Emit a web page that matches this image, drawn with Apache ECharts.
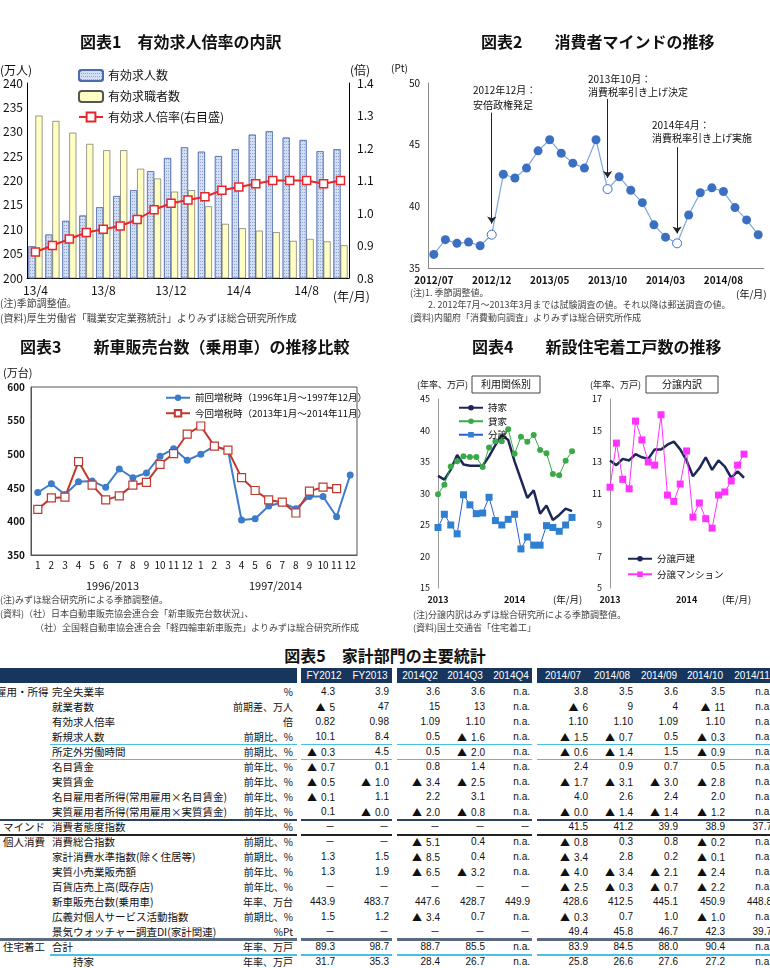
<!DOCTYPE html>
<html>
<head>
<meta charset="utf-8">
<script src="https://cdn.jsdelivr.net/npm/echarts@6/dist/echarts.min.js"></script>
<style>
    body { margin: 0; background: #fff; }
    #wrap { position: relative; width: 770px; height: 968px; overflow: hidden; font-family: "Noto Sans CJK JP", sans-serif; }
    #chart { position: absolute; left: 0; top: 0; width: 770px; height: 640px; }
    #table { position: absolute; left: 0; top: 640px; width: 770px; height: 328px; overflow: hidden; }
    .t { position: absolute; white-space: nowrap; font-size: 10.5px; line-height: 14px; color: #111; }
    .n { font-family: "Liberation Sans", "Noto Sans CJK JP", sans-serif; }
    .tri { font-family: "Noto Sans CJK JP", sans-serif; font-size: 10px; margin-right: 4px; }
</style>
</head>
<body>
<div id="wrap">
    <div id="chart"></div>
    <div id="table"></div>
</div>
<script>
// 図表1 有効求人倍率の内訳
const c1Months = ['13/4','13/5','13/6','13/7','13/8','13/9','13/10','13/11','13/12','14/1','14/2','14/3','14/4','14/5','14/6','14/7','14/8','14/9','14/10'];
const c1Offers = [206.5,208.9,211.7,212.8,214.5,216.8,218.0,221.9,224.6,226.8,225.9,225.0,226.4,229.4,230.1,228.8,228.3,226.0,226.4];
const c1Seekers = [233.3,232.2,229.8,227.5,226.2,226.2,222.4,220.4,217.7,218.0,214.7,211.1,210.2,209.7,209.4,207.6,208.0,207.5,206.7];
const c1Ratio = [0.88,0.90,0.92,0.94,0.95,0.96,0.98,1.01,1.03,1.04,1.05,1.07,1.08,1.09,1.10,1.10,1.10,1.09,1.10];

// 図表2 消費者マインド
const c2Months = ['2012/07','2012/08','2012/09','2012/10','2012/11','2012/12','2013/01','2013/02','2013/03','2013/04','2013/05','2013/06','2013/07','2013/08','2013/09','2013/10','2013/11','2013/12','2014/01','2014/02','2014/03','2014/04','2014/05','2014/06','2014/07','2014/08','2014/09','2014/10','2014/11'];
const c2Index = [36.1,37.3,37.0,37.1,36.8,37.7,42.6,42.3,43.1,44.5,45.4,44.3,43.5,43.1,45.4,41.4,42.4,41.3,40.3,38.5,37.5,37.0,39.3,41.1,41.5,41.2,39.9,38.9,37.7];
const c2Events = ['2012/12','2013/10','2014/04'];
const c2EventText = ['2012年12月：\n安倍政権発足','2013年10月：\n消費税率引き上げ決定','2014年4月：\n消費税率引き上げ実施'];

// 図表3 新車販売台数
const c3Months = ['1','2','3','4','5','6','7','8','9','10','11','12','1','2','3','4','5','6','7','8','9','10','11','12'];
const c3Years = ['1996/2013','1997/2014'];
const c3Prev = [443,456,440,459,460,451,478,465,472,497,508,491,500,512,506,402,404,423,428,419,437,437,407,469];
const c3Curr = [418,435,436,489,454,432,438,454,458,485,501,530,542,512,506,465,446,432,428.6,412.5,445.1,450.9,448.8];

// 図表4 新設住宅着工戸数
const c4Months = ['2013/01','2013/02','2013/03','2013/04','2013/05','2013/06','2013/07','2013/08','2013/09','2013/10','2013/11','2013/12','2014/01','2014/02','2014/03','2014/04','2014/05','2014/06','2014/07','2014/08','2014/09','2014/10'];
const c4Own = [32.8,32.2,33.8,36.1,34.6,34.4,34.4,34.4,35.9,37.7,39.3,38.5,35.1,32.2,29.3,30.5,26.8,28.1,25.8,26.6,27.6,27.2];
const c4Rent = [29.9,31.4,34.3,35.1,35.9,35.8,35.8,34.2,37.3,38.3,38.3,40.2,36.3,39.0,38.2,39.3,36.9,36.4,33.1,32.9,35.2,36.7];
const c4Sale = [24.6,26.7,25.0,23.6,29.8,28.2,26.8,26.9,29.4,25.7,25.0,25.9,26.7,21.2,23.1,21.8,21.8,24.9,24.6,24.0,25.0,26.2];
const c4House = [13.1,12.8,13.2,13.1,13.5,13.3,13.2,13.8,13.8,14.1,14.3,13.8,13.1,12.1,12.6,13.3,12.5,13.1,12.7,12.0,12.4,12.0];
const c4Condo = [11.4,14.2,11.9,11.3,15.6,14.4,13.0,12.8,16.0,10.9,10.5,11.6,13.7,9.5,10.4,9.4,8.8,10.9,11.1,11.8,12.8,13.5];

// 図表5 家計部門の主要統計
const tblHead = ['FY2012','FY2013','2014Q2','2014Q3','2014Q4','2014/07','2014/08','2014/09','2014/10','2014/11'];
const tblRows = [
    ['雇用・所得','完全失業率','%','4.3','3.9','3.6','3.6','n.a.','3.8','3.5','3.6','3.5','n.a.'],
    ['','就業者数','前期差、万人','▲ 5','47','15','13','n.a.','▲ 6','9','4','▲ 11','n.a.'],
    ['','有効求人倍率','倍','0.82','0.98','1.09','1.10','n.a.','1.10','1.10','1.09','1.10','n.a.'],
    ['','新規求人数','前期比、%','10.1','8.4','0.5','▲ 1.6','n.a.','▲ 1.5','▲ 0.7','0.5','▲ 0.3','n.a.'],
    ['','所定外労働時間','前期比、%','▲ 0.3','4.5','0.5','▲ 2.0','n.a.','▲ 0.6','▲ 1.4','1.5','▲ 0.9','n.a.'],
    ['','名目賃金','前年比、%','▲ 0.7','0.1','0.8','1.4','n.a.','2.4','0.9','0.7','0.5','n.a.'],
    ['','実質賃金','前年比、%','▲ 0.5','▲ 1.0','▲ 3.4','▲ 2.5','n.a.','▲ 1.7','▲ 3.1','▲ 3.0','▲ 2.8','n.a.'],
    ['','名目雇用者所得(常用雇用×名目賃金)','前年比、%','▲ 0.1','1.1','2.2','3.1','n.a.','4.0','2.6','2.4','2.0','n.a.'],
    ['','実質雇用者所得(常用雇用×実質賃金)','前年比、%','0.1','▲ 0.0','▲ 2.0','▲ 0.8','n.a.','▲ 0.0','▲ 1.4','▲ 1.4','▲ 1.2','n.a.'],
    ['マインド','消費者態度指数','%','－','－','－','－','－','41.5','41.2','39.9','38.9','37.7'],
    ['個人消費','消費総合指数','前期比、%','－','－','▲ 5.1','0.4','n.a.','▲ 0.8','0.3','0.8','▲ 0.2','n.a.'],
    ['','家計消費水準指数(除く住居等)','前期比、%','1.3','1.5','▲ 8.5','0.4','n.a.','▲ 3.4','2.8','0.2','▲ 0.1','n.a.'],
    ['','実質小売業販売額','前年比、%','1.3','1.9','▲ 6.5','▲ 3.2','n.a.','▲ 4.0','▲ 3.4','▲ 2.1','▲ 2.4','n.a.'],
    ['','百貨店売上高(既存店)','前年比、%','－','－','－','－','－','▲ 2.5','▲ 0.3','▲ 0.7','▲ 2.2','n.a.'],
    ['','新車販売台数(乗用車)','年率、万台','443.9','483.7','447.6','428.7','449.9','428.6','412.5','445.1','450.9','448.8'],
    ['','広義対個人サービス活動指数','前期比、%','1.5','1.2','▲ 3.4','0.7','n.a.','▲ 0.3','0.7','1.0','▲ 1.0','n.a.'],
    ['','景気ウォッチャー調査DI(家計関連)','%Pt','－','－','－','－','－','49.4','45.8','46.7','42.3','39.7'],
    ['住宅着工','合計','年率、万戸','89.3','98.7','88.7','85.5','n.a.','83.9','84.5','88.0','90.4','n.a.'],
    ['','　　持家','年率、万戸','31.7','35.3','28.4','26.7','n.a.','25.8','26.6','27.6','27.2','n.a.']
];

const FONT = '"Noto Sans CJK JP", sans-serif';
const chart = echarts.init(document.getElementById('chart'));

// 図表2: 白抜きの月
const c2Data = c2Index.map((v, i) => c2Events.includes(c2Months[i])
    ? { value: v, itemStyle: { color: '#fff', borderColor: '#3b6fc2', borderWidth: 1 } }
    : v);

// 矢印 (始点, 終点の値)
const arrows = [[47.6, 38.6], [48.7, 42.3], [44.8, 37.8]];

function txt(x, y, text, size, extra) {
    return {
        type: 'text', x: x, y: y, silent: true,
        style: Object.assign({
            text: text, fontSize: size, fontFamily: FONT, fill: '#111',
            align: 'left', verticalAlign: 'middle'
        }, extra || {})
    };
}
function box(x, y, w, h, text) {
    return [
        { type: 'rect', shape: { x: x, y: y, width: w, height: h }, style: { fill: '#fff', stroke: '#444', lineWidth: 1 } },
        txt(x + w / 2, y + h / 2, text, 10, { align: 'center' })
    ];
}

const axisLab = (size, extra) => Object.assign({ fontSize: size, color: '#111', fontFamily: FONT }, extra || {});

const option = {
    animation: false,
    textStyle: { fontFamily: FONT },
    grid: [
        { left: 25, top: 83, width: 324, height: 195 },
        { left: 428, top: 83, width: 336, height: 185 },
        { left: 31, top: 387, width: 326, height: 168, show: true, borderColor: '#555', borderWidth: 1 },
        { left: 438, top: 399, width: 134, height: 189 },
        { left: 610, top: 399, width: 134, height: 189 }
    ],
    xAxis: [
        { type: 'category', gridIndex: 0, data: c1Months,
          axisLine: { lineStyle: { color: '#000' } }, axisTick: { show: false },
          axisLabel: axisLab(12, { interval: 3, margin: 6 }) },
        { type: 'category', gridIndex: 1, data: c2Months,
          axisLine: { lineStyle: { color: '#888' } }, axisTick: { show: false },
          axisLabel: axisLab(10, { interval: 4, margin: 7, fontWeight: 'bold' }) },
        { type: 'category', gridIndex: 2, data: c3Months,
          axisLine: { lineStyle: { color: '#555' } },
          axisTick: { interval: 0, length: 18, lineStyle: { color: '#555' } },
          axisLabel: axisLab(10, { interval: 0, margin: 5 }) },
        { type: 'category', gridIndex: 2, data: c3Years, position: 'bottom', offset: 18,
          axisLine: { show: false },
          axisTick: { interval: 0, length: 19, lineStyle: { color: '#555' } },
          axisLabel: axisLab(11, { margin: 7 }) },
        { type: 'category', gridIndex: 3, data: c4Months, boundaryGap: false,
          axisLine: { show: false }, axisTick: { show: false },
          axisLabel: axisLab(9, { interval: (i) => i % 12 === 0, formatter: (v) => v.slice(0, 4), fontWeight: 'bold', margin: 7 }) },
        { type: 'category', gridIndex: 4, data: c4Months, boundaryGap: false,
          axisLine: { show: false }, axisTick: { show: false },
          axisLabel: axisLab(9, { interval: (i) => i % 12 === 0, formatter: (v) => v.slice(0, 4), fontWeight: 'bold', margin: 7 }) }
    ],
    yAxis: [
        { type: 'value', gridIndex: 0, min: 200, max: 240, interval: 5,
          axisLine: { show: true, lineStyle: { color: '#000' } }, splitLine: { show: false },
          axisLabel: axisLab(12, { margin: 4 }) },
        { type: 'value', gridIndex: 0, position: 'right', min: 0.8, max: 1.4,
          axisLine: { show: true, lineStyle: { color: '#000' } }, splitLine: { show: false },
          axisLabel: axisLab(12, { margin: 8, customValues: [0.8, 0.9, 1.0, 1.1, 1.2, 1.3, 1.4], formatter: (v) => v.toFixed(1) }) },
        { type: 'value', gridIndex: 1, min: 35, max: 50, interval: 5,
          axisLine: { show: true, lineStyle: { color: '#888' } }, splitLine: { show: false },
          axisLabel: axisLab(10, { margin: 8 }) },
        { type: 'value', gridIndex: 2, min: 350, max: 600, interval: 50,
          axisLine: { show: true, lineStyle: { color: '#555' } }, splitLine: { show: false },
          axisLabel: axisLab(10, { margin: 6, fontWeight: 'bold' }) },
        { type: 'value', gridIndex: 3, min: 15, max: 45, interval: 5,
          axisLine: { show: true, lineStyle: { color: '#999' } }, splitLine: { show: false },
          axisLabel: axisLab(9, { margin: 8 }) },
        { type: 'value', gridIndex: 4, min: 5, max: 17,
          axisLine: { show: true, lineStyle: { color: '#999' } }, splitLine: { show: false },
          axisTick: { show: false },
          axisLabel: axisLab(9, { margin: 8, customValues: [5, 7, 9, 11, 13, 15, 17] }) }
    ],
    legend: [
        { left: 73, top: 64, orient: 'vertical', itemGap: 8, itemWidth: 24, itemHeight: 11,
          data: ['有効求人数', '有効求職者数', '有効求人倍率(右目盛)'],
          textStyle: { fontSize: 12, color: '#111' } },
        { left: 160, top: 388, orient: 'vertical', itemGap: 6, itemWidth: 24, itemHeight: 8,
          data: ['前回増税時（1996年1月～1997年12月）', '今回増税時（2013年1月～2014年11月）'],
          textStyle: { fontSize: 9.5, color: '#111' } },
        { left: 453, top: 398, orient: 'vertical', itemGap: 4, itemWidth: 24, itemHeight: 7,
          data: ['持家', '貸家', '分譲'], textStyle: { fontSize: 9.5, color: '#111' } },
        { left: 622, top: 549, orient: 'vertical', itemGap: 6, itemWidth: 24, itemHeight: 7,
          data: ['分譲戸建', '分譲マンション'], textStyle: { fontSize: 9.5, color: '#111' } }
    ],
    series: [
        { name: '有効求人数', type: 'bar', xAxisIndex: 0, yAxisIndex: 0, data: c1Offers,
          barWidth: 7, barGap: '0%',
          itemStyle: { color: '#d3def2', borderColor: '#4d6cb0', borderWidth: 0.6,
                       decal: { symbol: 'rect', symbolSize: 1, color: 'rgba(70,100,170,0.45)', dashArrayX: [1, 1], dashArrayY: [1, 2] } } },
        { name: '有効求職者数', type: 'bar', xAxisIndex: 0, yAxisIndex: 0, data: c1Seekers,
          barWidth: 7,
          itemStyle: { color: '#ffffc4', borderColor: '#555', borderWidth: 0.6 } },
        { name: '有効求人倍率(右目盛)', type: 'line', xAxisIndex: 0, yAxisIndex: 1, data: c1Ratio,
          symbol: 'rect', symbolSize: 8, z: 5, showAllSymbol: true,
          lineStyle: { color: '#e8262b', width: 2 },
          itemStyle: { color: '#fff', borderColor: '#e8262b', borderWidth: 1.5 } },
        { name: '消費者態度指数', type: 'line', xAxisIndex: 1, yAxisIndex: 2, data: c2Data,
          symbol: 'circle', symbolSize: 9, showAllSymbol: true,
          lineStyle: { color: '#7ea6e0', width: 1.2 },
          itemStyle: { color: '#3b6fc2' },
          markLine: {
              silent: true, symbol: ['none', 'arrow'], symbolSize: 7,
              label: { show: false },
              lineStyle: { color: '#222', width: 1, type: 'solid' },
              data: c2Events.map((m, i) => [{ coord: [m, arrows[i][0]] }, { coord: [m, arrows[i][1]] }])
          } },
        { name: '前回増税時（1996年1月～1997年12月）', type: 'line', xAxisIndex: 2, yAxisIndex: 3, data: c3Prev,
          symbol: 'circle', symbolSize: 7, showAllSymbol: true,
          lineStyle: { color: '#3d7cc9', width: 2 }, itemStyle: { color: '#3d7cc9' } },
        { name: '今回増税時（2013年1月～2014年11月）', type: 'line', xAxisIndex: 2, yAxisIndex: 3, data: c3Curr,
          symbol: 'rect', symbolSize: 8, showAllSymbol: true,
          lineStyle: { color: '#c0392f', width: 2 },
          itemStyle: { color: '#fff', borderColor: '#c0392f', borderWidth: 1.2 } },
        { name: '持家', type: 'line', xAxisIndex: 4, yAxisIndex: 4, data: c4Own,
          symbol: 'none', lineStyle: { color: '#1c2757', width: 2.5 }, itemStyle: { color: '#1c2757' } },
        { name: '貸家', type: 'line', xAxisIndex: 4, yAxisIndex: 4, data: c4Rent,
          symbol: 'circle', symbolSize: 6, showAllSymbol: true,
          lineStyle: { color: '#3aaa48', width: 1 }, itemStyle: { color: '#3aaa48' } },
        { name: '分譲', type: 'line', xAxisIndex: 4, yAxisIndex: 4, data: c4Sale,
          symbol: 'rect', symbolSize: 7, showAllSymbol: true,
          lineStyle: { color: '#2a5fd0', width: 1 }, itemStyle: { color: '#2f80d0' } },
        { name: '分譲戸建', type: 'line', xAxisIndex: 5, yAxisIndex: 5, data: c4House,
          symbol: 'none', lineStyle: { color: '#1c2757', width: 2.5 }, itemStyle: { color: '#1c2757' } },
        { name: '分譲マンション', type: 'line', xAxisIndex: 5, yAxisIndex: 5, data: c4Condo,
          symbol: 'rect', symbolSize: 7, showAllSymbol: true,
          lineStyle: { color: '#ff33ff', width: 1 }, itemStyle: { color: '#ff33ff' } }
    ],
    graphic: [
        // タイトル
        txt(80, 42, '図表1　有効求人倍率の内訳', 16, { fontWeight: 'bold' }),
        txt(481, 42, '図表2　　消費者マインドの推移', 16, { fontWeight: 'bold' }),
        txt(20, 347, '図表3　　新車販売台数（乗用車）の推移比較', 16, { fontWeight: 'bold' }),
        txt(472, 347, '図表4　　新設住宅着工戸数の推移', 16, { fontWeight: 'bold' }),
        // 図表1
        txt(0, 70, '(万人)', 12),
        txt(350, 70, '(倍)', 12),
        txt(333, 296, '(年/月)', 12),
        txt(0, 303, '(注)季節調整値。', 10, { fill: '#444' }),
        txt(0, 318, '(資料)厚生労働省「職業安定業務統計」よりみずほ総合研究所作成', 10, { fill: '#444' }),
        // 図表2
        txt(391, 68, '(Pt)', 10),
        txt(736, 294, '(年/月)', 10),
        txt(473, 83, c2EventText[0], 10, { verticalAlign: 'top', lineHeight: 15 }),
        txt(588, 73, c2EventText[1], 10, { verticalAlign: 'top', lineHeight: 13 }),
        txt(652, 119, c2EventText[2], 10, { verticalAlign: 'top', lineHeight: 13 }),
        txt(410, 293, '(注)1. 季節調整値。', 9, { fill: '#444' }),
        txt(410, 305, '　　2. 2012年7月～2013年3月までは試験調査の値。それ以降は郵送調査の値。', 9, { fill: '#444' }),
        txt(410, 318, '(資料)内閣府「消費動向調査」よりみずほ総合研究所作成', 9, { fill: '#444' }),
        // 図表3
        txt(3, 373, '(万台)', 11),
        txt(0, 600, '(注)みずほ総合研究所による季節調整値。', 9, { fill: '#444' }),
        txt(0, 614, '(資料)（社）日本自動車販売協会連合会「新車販売台数状況」、', 9, { fill: '#444' }),
        txt(35, 628, '（社）全国軽自動車協会連合会「軽四輪車新車販売」よりみずほ総合研究所作成', 9, { fill: '#444' }),
        // 図表4
        txt(417, 385, '(年率、万戸)', 9),
        ...box(472, 376, 68, 17, '利用関係別'),
        txt(590, 385, '(年率、万戸)', 9),
        ...box(646, 376, 72, 17, '分譲内訳'),
        txt(553, 599, '(年/月)', 9.5),
        txt(722, 599, '(年/月)', 9.5),
        txt(413, 615, '(注)分譲内訳はみずほ総合研究所による季節調整値。', 9, { fill: '#444' }),
        txt(413, 628, '(資料)国土交通省「住宅着工」', 9, { fill: '#444' })
    ]
};
chart.setOption(option);

// 図表5 表
const tbl = document.getElementById('table');
const TOP = 640;
const colRight = [335, 389, 440, 485, 530, 588, 633, 678, 725, 772];
const headCenter = [324, 370, 420, 465, 511, 563, 612, 659, 705, 752];
const blocks = [[301, 392], [397, 532], [537, 770]];

function el(css, text, cls) {
    const d = document.createElement('div');
    d.className = cls || 't';
    Object.assign(d.style, css);
    if (text !== undefined) d.textContent = text;
    tbl.appendChild(d);
    return d;
}
function hline(y, x0, color, w) {
    [[x0, 297]].concat(blocks).forEach(([a, b]) => {
        el({ left: a + 'px', top: (y - TOP - w / 2) + 'px', width: (b - a) + 'px', height: w + 'px', background: color });
    });
}
// ▲ は全角フォントで
function num(css, text) {
    const d = el(css, undefined, 't n');
    if (text.startsWith('▲')) {
        const s = document.createElement('span');
        s.className = 'tri';
        s.textContent = '▲';
        d.appendChild(s);
        d.appendChild(document.createTextNode(text.slice(2)));
    } else {
        d.textContent = text;
    }
}

el({ left: '0px', top: (655 - TOP - 10) + 'px', width: '770px', textAlign: 'center', fontSize: '16px', lineHeight: '20px', fontWeight: 'bold' }, '図表5　家計部門の主要統計');

[[0, 297]].concat(blocks).forEach(([a, b]) => {
    el({ left: a + 'px', top: (668 - TOP) + 'px', width: (b - a) + 'px', height: '15px', background: '#17365d' });
});
tblHead.forEach((h, i) => {
    el({ left: (headCenter[i] - 30) + 'px', width: '60px', textAlign: 'center', top: (668 - TOP) + 'px', lineHeight: '15px', color: '#fff', fontSize: '10px' }, h, 't n');
});

tblRows.forEach((r, i) => {
    const y = 692 + 15 * i - TOP - 7;
    if (r[0]) el({ left: (r[0] === '雇用・所得' ? -4 : 3) + 'px', top: y + 'px' }, r[0]);
    el({ left: '52px', top: y + 'px' }, r[1]);
    el({ right: (770 - 293) + 'px', top: y + 'px', fontSize: '10px' }, r[2]);
    for (let c = 0; c < 10; c++) {
        num({ right: (770 - colRight[c]) + 'px', top: y + 'px', fontSize: '10px' }, r[3 + c]);
    }
});

// 区切り線
hline(744.5, 50, '#49c1e4', 1.5);
hline(759.5, 50, '#49c1e4', 1.5);
hline(819.5, 0, '#2b3f63', 2);
hline(834.5, 0, '#222', 2);
hline(939, 0, '#5a6b80', 3);
hline(954.5, 50, '#49c1e4', 2);
</script>
</body>
</html>
